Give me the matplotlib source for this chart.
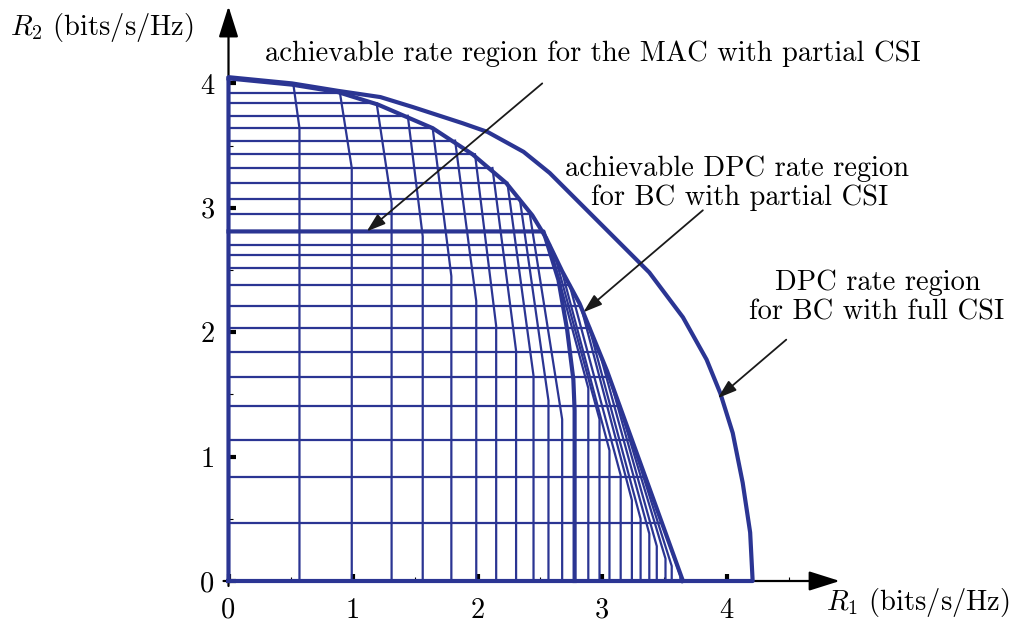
import numpy as np
import matplotlib
matplotlib.use('Agg')
import matplotlib.pyplot as plt

plt.rcParams['font.family'] = 'cmr10'
plt.rcParams['mathtext.fontset'] = 'cm'
plt.rcParams['axes.unicode_minus'] = False

# DPC rate region, full CSI (outer boundary)
full_x = [0, 0.51, 0.88, 1.22, 1.48, 1.88, 2.08, 2.37, 2.58, 2.69, 2.96, 3.38, 3.65, 3.84, 3.95, 4.05, 4.13, 4.19, 4.21]
full_y = [4.05, 4.00, 3.94, 3.89, 3.81, 3.68, 3.61, 3.45, 3.28, 3.17, 2.90, 2.48, 2.12, 1.78, 1.51, 1.19, 0.79, 0.39, 0]

# achievable DPC region, partial CSI (envelope of the mesh)
part_x = [0, 0.51, 0.88, 1.20, 1.64, 1.96, 2.23, 2.44, 2.55, 2.68, 2.82, 3.04, 3.65]
part_y = [4.04, 3.99, 3.93, 3.83, 3.64, 3.43, 3.20, 2.94, 2.76, 2.49, 2.23, 1.69, 0]

# MAC region with partial CSI
mac_x = [0, 2.53, 2.65, 2.72, 2.77, 2.78, 2.78]
mac_y = [2.81, 2.81, 2.42, 2.02, 1.62, 1.37, 0]

# mesh: horizontal levels
grid_y = [3.925, 3.84, 3.74, 3.64, 3.54, 3.43, 3.32, 3.20, 3.07, 2.95, 2.70,
          2.62, 2.52, 2.38, 2.21, 2.03, 1.84, 1.64, 1.41, 1.13, 0.84, 0.47]

# mesh: "vertical" curves (foot, bend height, top end on the envelope)
vert_x = [0.57, 0.99, 1.31, 1.56, 1.79, 1.99, 2.15, 2.31, 2.45, 2.57, 2.68,
          2.89, 2.98, 3.06, 3.15, 3.24, 3.31, 3.38, 3.44, 3.51, 3.56, 3.63]
vert_bend = [3.64, 3.32, 3.04, 2.77, 2.45, 2.25, 2.05, 1.85, 1.65, 1.45, 1.30,
             1.55, 1.30, 1.05, 0.85, 0.65, 0.50, 0.38, 0.28, 0.18, 0.12, 0.04]
vert_top_x = [0.52, 0.895, 1.19, 1.44, 1.64, 1.82, 1.98, 2.12, 2.24, 2.34, 2.42,
              2.58, 2.62, 2.67, 2.74, 2.83, 2.90, 2.98, 3.06, 3.14, 3.24, 3.35]
vert_top_y = [4.00, 3.925, 3.84, 3.74, 3.64, 3.54, 3.43, 3.32, 3.20, 3.07, 2.95,
              2.70, 2.62, 2.52, 2.38, 2.21, 2.03, 1.84, 1.64, 1.41, 1.13, 0.84]

ticks = [0, 1, 2, 3, 4]
minor_x = [0.5, 1.5, 2.5, 3.5, 4.5]
minor_y = [0.5, 1.5, 2.5, 3.5]

blue = '#2b3593'
fs = 20.5
W, H = 1029, 628


def px(x, y):
    return x / W, 1 - y / H


fig = plt.figure(figsize=(W / 100, H / 100), dpi=100)
ax = fig.add_axes([228.5 / W, 47 / H, 4.91 * 124.5 / W, 4.62 * 124.4 / H])
ax.set_xlim(0, 4.91)
ax.set_ylim(0, 4.62)
for s in ax.spines.values():
    s.set_visible(False)

# axes with arrows
arr = dict(arrowstyle='-|>,head_length=1.9,head_width=0.6', color='black',
           lw=1.6, mutation_scale=10, shrinkA=0, shrinkB=0)
ax.annotate('', xy=(4.91, 0), xytext=(-0.04, 0), arrowprops=arr, annotation_clip=False, zorder=1)
ax.annotate('', xy=(0, 4.62), xytext=(0, -0.04), arrowprops=arr, annotation_clip=False, zorder=1)

# mesh
part_xr = np.array(part_x)[::-1]
part_yr = np.array(part_y)[::-1]
for y in grid_y:
    xe = np.interp(y, part_yr, part_xr)
    ax.plot([0, xe], [y, y], color=blue, lw=1.6, clip_on=False, zorder=2)
for x0, yb, xt, yt in zip(vert_x, vert_bend, vert_top_x, vert_top_y):
    ax.plot([x0, x0, xt], [0, yb, yt], color=blue, lw=1.6, clip_on=False, zorder=2)

# thick boundaries
ax.plot(mac_x, mac_y, color=blue, lw=3, clip_on=False, zorder=3, solid_joinstyle='round')
ax.plot(part_x, part_y, color=blue, lw=3, clip_on=False, zorder=3, solid_joinstyle='round')
ax.plot([0] + full_x + [0], [0] + full_y + [0], color=blue, lw=3, clip_on=False, zorder=3,
        solid_joinstyle='round')

# ticks
ax.set_xticks(ticks)
ax.set_yticks(ticks)
ax.set_xticks(minor_x, minor=True)
ax.set_yticks(minor_y, minor=True)
ax.set_xticklabels([str(t) for t in ticks])
ax.set_yticklabels([str(t) for t in ticks])
ax.tick_params(which='major', direction='in', length=5, width=3, color='black', labelsize=fs)
ax.tick_params(which='minor', direction='in', length=3, width=0.8, color='black')
ax.tick_params(axis='x', which='major', pad=12)
ax.tick_params(axis='y', which='major', pad=10)
for t in ax.xaxis.get_major_ticks() + ax.yaxis.get_major_ticks():
    t.tick1line.set_zorder(5)

# labels
fig.text(*px(10, 35), r'$R_2$ (bits/s/Hz)', fontsize=fs, ha='left', va='baseline')
fig.text(*px(826, 610), r'$R_1$ (bits/s/Hz)', fontsize=fs, ha='left', va='baseline')
fig.text(*px(265, 61), 'achievable rate region for the MAC with partial CSI', fontsize=fs,
         ha='left', va='baseline')
fig.text(*px(737, 176), 'achievable DPC rate region', fontsize=fs, ha='center', va='baseline')
fig.text(*px(740, 205), 'for BC with partial CSI', fontsize=fs, ha='center', va='baseline')
fig.text(*px(878, 290), 'DPC rate region', fontsize=fs, ha='center', va='baseline')
fig.text(*px(877, 320), 'for BC with full CSI', fontsize=fs, ha='center', va='baseline')

# pointer arrows
pa = dict(arrowstyle='-|>,head_length=1.15,head_width=0.38', color='#1a1a1a',
          lw=1.3, mutation_scale=10, shrinkA=0, shrinkB=0)
ax.annotate('', xy=(1.11, 2.81), xytext=(2.52, 4.00), arrowprops=pa, annotation_clip=False, zorder=6)
ax.annotate('', xy=(2.85, 2.16), xytext=(3.81, 2.98), arrowprops=pa, annotation_clip=False, zorder=6)
ax.annotate('', xy=(3.93, 1.47), xytext=(4.48, 1.94), arrowprops=pa, annotation_clip=False, zorder=6)

fig.savefig('out.png', dpi=100)
